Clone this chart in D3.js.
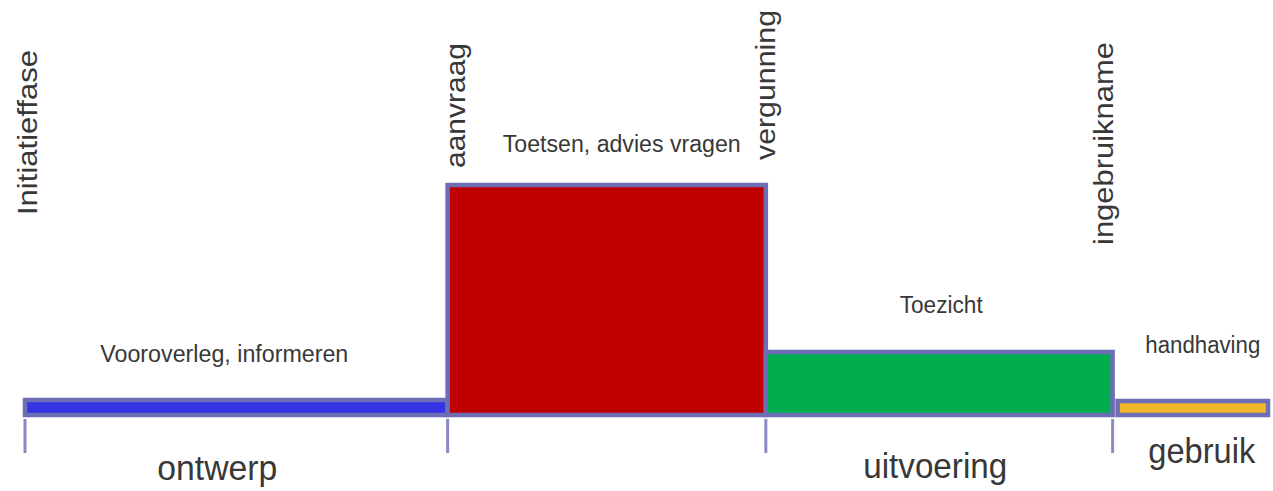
<!DOCTYPE html>
<html>
<head>
<meta charset="utf-8">
<script src="https://cdn.jsdelivr.net/npm/d3@7"></script>
<style>
  body { margin: 0; background: #fff; }
  text { font-family: "Liberation Sans", Arial, sans-serif; fill: #383838; }
</style>
</head>
<body>
<svg id="chart" width="1273" height="491"></svg>
<script>
// milestones on the timeline (0 - 100)
const milestones = ["Initiatieffase", "aanvraag", "vergunning", "ingebruikname"];
const milestoneAt = [0, 34, 59.6, 87.5];

// activities: start, end and relative effort
const activities = ["Vooroverleg, informeren", "Toetsen, advies vragen", "Toezicht", "handhaving"];
const activityStart = [0, 34, 59.6, 87.9];
const activityEnd = [34, 59.6, 87.5, 100];
const activityLevel = [1.5, 23, 6.3, 1.4];
const activityColors = ["#3434e6", "#c00000", "#00ae4e", "#f2b628"];

// phases under the axis
const phases = ["ontwerp", "uitvoering", "gebruik"];
const phaseStart = [0, 59.6, 87.9];
const phaseEnd = [34, 87.5, 100];

// label nudges (layout only)
const milestoneLayout = [
  { dx: 12, y: 215, len: 165 },
  { dx: 17, y: 168, len: 125 },
  { dx: 9, y: 160, len: 150 },
  { dx: 0, y: 245, len: 203 }
];
const activityLayout = [
  { dx: -12, dy: -38, len: 248 },
  { dx: 15, dy: -33, len: 238 },
  { dx: 2, dy: -39, len: 83 },
  { dx: 10, dy: -48, len: 115 }
];
const phaseLayout = [
  { dx: -19, y: 480, len: 120 },
  { dx: -4, y: 478, len: 144 },
  { dx: 9, y: 463, len: 107 }
];

const svg = d3.select("#chart");
const border = "#6e6eb6";

const x = d3.scaleLinear().domain([0, 100]).range([25, 1268]);
const y = d3.scaleLinear().domain([0, 23]).range([415, 185]);

// tick marks below the bars
svg.append("g")
  .selectAll("line")
  .data(milestoneAt)
  .join("line")
  .attr("x1", (d) => x(d))
  .attr("x2", (d) => x(d))
  .attr("y1", y(0) + 4)
  .attr("y2", y(0) + 38)
  .attr("stroke", "#8a8ac4")
  .attr("stroke-width", 3);

// bars
svg.append("g")
  .selectAll("rect")
  .data(activities)
  .join("rect")
  .attr("x", (d, i) => x(activityStart[i]))
  .attr("y", (d, i) => y(activityLevel[i]))
  .attr("width", (d, i) => x(activityEnd[i]) - x(activityStart[i]))
  .attr("height", (d, i) => y(0) - y(activityLevel[i]))
  .attr("fill", (d, i) => activityColors[i])
  .attr("stroke", border)
  .attr("stroke-width", 4.5);

// activity labels above bars
svg.append("g")
  .selectAll("text")
  .data(activities)
  .join("text")
  .attr("x", (d, i) => (x(activityStart[i]) + x(activityEnd[i])) / 2 + activityLayout[i].dx)
  .attr("y", (d, i) => y(activityLevel[i]) + activityLayout[i].dy)
  .attr("text-anchor", "middle")
  .attr("font-size", 23)
  .attr("textLength", (d, i) => activityLayout[i].len)
  .attr("lengthAdjust", "spacingAndGlyphs")
  .text((d) => d);

// milestone labels, rotated
svg.append("g")
  .selectAll("text")
  .data(milestones)
  .join("text")
  .attr("transform", (d, i) => `translate(${x(milestoneAt[i]) + milestoneLayout[i].dx},${milestoneLayout[i].y}) rotate(-90)`)
  .attr("font-size", 28)
  .attr("textLength", (d, i) => milestoneLayout[i].len)
  .attr("lengthAdjust", "spacingAndGlyphs")
  .text((d) => d);

// phase labels
svg.append("g")
  .selectAll("text")
  .data(phases)
  .join("text")
  .attr("x", (d, i) => (x(phaseStart[i]) + x(phaseEnd[i])) / 2 + phaseLayout[i].dx)
  .attr("y", (d, i) => phaseLayout[i].y)
  .attr("text-anchor", "middle")
  .attr("font-size", 35)
  .attr("textLength", (d, i) => phaseLayout[i].len)
  .attr("lengthAdjust", "spacingAndGlyphs")
  .text((d) => d);
</script>
</body>
</html>
